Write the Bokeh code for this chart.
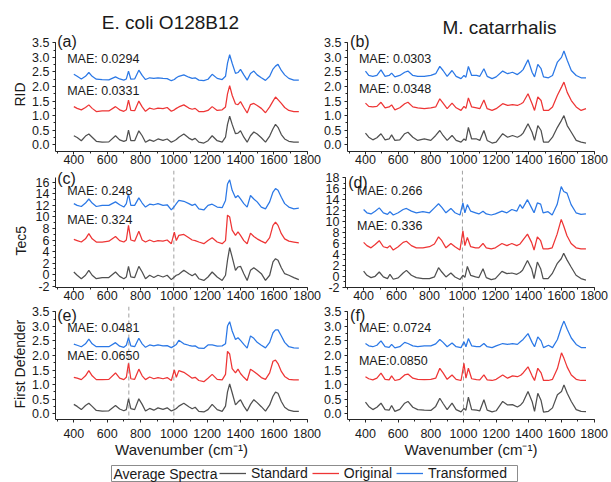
from bokeh.plotting import figure
from bokeh.layouts import column, row
from bokeh.models import (Range1d, FixedTicker, PrintfTickFormatter, Label, Span, Legend,
                          LegendItem, Title, BoxAnnotation)
from bokeh.embed import file_html
from bokeh.resources import INLINE

FONT = "Liberation Sans"
C_STD, C_ORI, C_TRA = "#505050", "#ee3535", "#2b78e6"

# ---------------- data: E. coli O128B12 (left column) ----------------
x_ecoli = [400, 420, 445, 470, 490, 510, 535, 570, 610, 650, 675, 700, 715, 728, 742,
           765, 790, 810, 830, 855, 880, 905, 935, 960, 985, 1003, 1015, 1030, 1060, 1090,
           1110, 1128, 1150, 1180, 1205, 1230, 1260, 1290, 1310, 1322, 1335, 1350, 1370, 1385, 1400,
           1420, 1440, 1460, 1480, 1500, 1525, 1550, 1575, 1595, 1610, 1625, 1645, 1665, 1690, 1720, 1750]

rid_ecoli_std = [0.31, 0.25, 0.14, 0.30, 0.37, 0.26, 0.12, 0.09, 0.10, 0.31, 0.17, 0.12, 0.15, 0.50, 0.14,
                 0.14, 0.48, 0.31, 0.09, 0.17, 0.12, 0.20, 0.15, 0.20, 0.09, 0.14, 0.18, 0.26, 0.37, 0.23,
                 0.17, 0.22, 0.09, 0.06, 0.14, 0.31, 0.14, 0.09, 0.26, 0.70, 0.98, 0.70, 0.38, 0.40, 0.48,
                 0.26, 0.09, 0.31, 0.44, 0.37, 0.24, 0.09, 0.30, 0.55, 0.70, 0.60, 0.35, 0.20, 0.12, 0.09, 0.09]
rid_ecoli_ori = [1.31, 1.25, 1.20, 1.28, 1.37, 1.25, 1.14, 1.16, 1.16, 1.31, 1.20, 1.15, 1.20, 1.53, 1.18,
                 1.17, 1.50, 1.30, 1.15, 1.26, 1.22, 1.26, 1.24, 1.28, 1.15, 1.20, 1.25, 1.30, 1.37, 1.26,
                 1.22, 1.25, 1.14, 1.14, 1.18, 1.31, 1.18, 1.20, 1.30, 1.75, 2.03, 1.70, 1.40, 1.38, 1.48,
                 1.28, 1.09, 1.38, 1.42, 1.35, 1.25, 1.10, 1.30, 1.50, 1.64, 1.55, 1.42, 1.28, 1.18, 1.14, 1.14]
rid_ecoli_tra = [2.42, 2.35, 2.26, 2.35, 2.48, 2.35, 2.25, 2.24, 2.23, 2.33, 2.26, 2.22, 2.26, 2.53, 2.25,
                 2.26, 2.56, 2.38, 2.24, 2.30, 2.28, 2.30, 2.28, 2.27, 2.20, 2.24, 2.30, 2.35, 2.40, 2.32,
                 2.28, 2.30, 2.22, 2.20, 2.25, 2.42, 2.28, 2.24, 2.35, 2.80, 3.09, 2.80, 2.45, 2.48, 2.59,
                 2.40, 2.22, 2.45, 2.53, 2.40, 2.30, 2.21, 2.35, 2.60, 2.70, 2.76, 2.55, 2.40, 2.28, 2.22, 2.22]

tec_ecoli_std = [0.46, -0.1, -0.7, -0.1, 0.75, -0.1, -0.7, -0.5, -0.5, 0.46, -0.3, -0.7, -0.4, 1.44, -0.4,
                 -0.5, 1.44, 0.46, -0.7, -0.1, -0.5, -0.1, -0.4, -0.1, -0.86, -0.4, -0.1, 0.06, 0.75, 0.17,
                 -0.2, 0.17, -0.7, -1.0, -0.4, 0.46, -0.4, -1.0, -0.1, 2.5, 4.67, 3.05, 0.75, 1.33, 1.44,
                 0.17, -1.0, 0.75, 1.2, 0.75, 0.17, -1.0, -0.1, 2.2, 2.77, 2.5, 1.2, 0.17, -0.1, -0.5, -0.86]
tec_ecoli_ori = [6.1, 5.9, 5.65, 6.2, 7.1, 6.2, 5.65, 5.65, 5.8, 6.6, 5.9, 5.65, 6.0, 8.53, 6.0,
                 5.8, 7.5, 6.0, 5.65, 6.0, 5.7, 5.9, 5.8, 6.0, 5.36, 7.38, 5.9, 6.8, 6.97, 6.4,
                 6.0, 5.9, 5.65, 5.36, 5.9, 6.4, 5.65, 5.36, 5.9, 10.3, 10.0, 7.7, 6.8, 7.4, 6.8,
                 5.9, 5.36, 7.2, 6.6, 6.2, 5.8, 5.45, 6.4, 8.53, 9.1, 8.53, 7.1, 6.2, 5.8, 5.65, 5.5]
tec_ecoli_tra = [12.3, 12.0, 11.8, 12.4, 13.1, 12.4, 11.8, 12.0, 12.0, 12.6, 12.1, 11.7, 12.3, 14.0, 12.0,
                 12.0, 13.3, 12.4, 11.7, 12.2, 12.1, 12.3, 12.0, 12.1, 11.2, 11.8, 12.3, 12.85, 12.7, 12.3,
                 12.0, 12.2, 11.4, 11.2, 12.0, 12.2, 11.7, 11.6, 12.85, 15.7, 16.4, 14.6, 13.3, 13.7, 13.1,
                 12.3, 11.7, 13.7, 13.1, 12.6, 11.7, 11.4, 12.6, 14.3, 14.9, 14.6, 13.4, 12.3, 11.7, 11.4, 11.5]

fd_ecoli_std = [0.32, 0.25, 0.14, 0.28, 0.36, 0.25, 0.11, 0.09, 0.10, 0.28, 0.16, 0.10, 0.14, 0.51, 0.17,
                0.14, 0.51, 0.32, 0.09, 0.18, 0.12, 0.20, 0.15, 0.20, 0.09, 0.14, 0.18, 0.26, 0.36, 0.24,
                0.17, 0.22, 0.08, 0.06, 0.14, 0.32, 0.14, 0.08, 0.26, 0.75, 1.02, 0.72, 0.30, 0.40, 0.48,
                0.26, 0.09, 0.32, 0.48, 0.38, 0.24, 0.09, 0.30, 0.60, 0.74, 0.70, 0.42, 0.22, 0.12, 0.08, 0.08]
fd_ecoli_ori = [1.25, 1.22, 1.17, 1.30, 1.48, 1.30, 1.17, 1.17, 1.18, 1.40, 1.22, 1.17, 1.25, 1.73, 1.20,
                1.18, 1.53, 1.30, 1.17, 1.26, 1.20, 1.24, 1.20, 1.24, 1.14, 1.50, 1.25, 1.48, 1.42, 1.30,
                1.22, 1.25, 1.14, 1.10, 1.22, 1.35, 1.18, 1.16, 1.35, 2.14, 2.05, 1.55, 1.40, 1.53, 1.38,
                1.25, 1.14, 1.53, 1.45, 1.36, 1.24, 1.18, 1.40, 1.80, 1.84, 1.72, 1.45, 1.28, 1.18, 1.16, 1.16]
fd_ecoli_tra = [2.39, 2.35, 2.30, 2.40, 2.56, 2.40, 2.30, 2.30, 2.30, 2.44, 2.32, 2.28, 2.35, 2.61, 2.33,
                2.30, 2.59, 2.40, 2.28, 2.36, 2.33, 2.36, 2.33, 2.34, 2.27, 2.33, 2.38, 2.52, 2.40, 2.35,
                2.32, 2.33, 2.25, 2.24, 2.36, 2.36, 2.32, 2.33, 2.40, 3.01, 3.16, 2.84, 2.55, 2.61, 2.52,
                2.38, 2.25, 2.67, 2.59, 2.45, 2.35, 2.26, 2.45, 2.78, 2.88, 2.88, 2.67, 2.45, 2.30, 2.26, 2.25]

# ---------------- data: M. catarrhalis (right column) ----------------
x_mcat = [400, 420, 445, 470, 495, 520, 545, 560, 580, 610, 640, 660, 690, 720, 760,
          800, 830, 855, 875, 900, 930, 955, 985, 1003, 1015, 1030, 1050, 1080, 1100, 1125,
          1145, 1175, 1200, 1240, 1270, 1300, 1330, 1350, 1365, 1395, 1420, 1435, 1455, 1475, 1490,
          1520, 1545, 1575, 1600, 1615, 1635, 1660, 1690, 1720, 1750]

rid_mcat_std = [0.40, 0.26, 0.17, 0.24, 0.38, 0.17, 0.20, 0.34, 0.15, 0.17, 0.38, 0.43, 0.26, 0.15, 0.20,
                0.15, 0.32, 0.49, 0.32, 0.15, 0.32, 0.15, 0.09, 0.20, 0.15, 0.60, 0.20, 0.20, 0.15, 0.49,
                0.15, 0.06, 0.09, 0.38, 0.26, 0.32, 0.26, 0.32, 0.40, 0.72, 0.43, 0.15, 0.66, 0.49, 0.09,
                0.09, 0.26, 0.60, 0.84, 1.00, 0.66, 0.43, 0.15, 0.09, 0.06]
rid_mcat_ori = [1.43, 1.32, 1.30, 1.32, 1.46, 1.27, 1.30, 1.37, 1.20, 1.27, 1.41, 1.46, 1.30, 1.27, 1.24,
                1.27, 1.30, 1.58, 1.43, 1.24, 1.43, 1.27, 1.18, 1.32, 1.25, 1.61, 1.30, 1.27, 1.24, 1.54,
                1.24, 1.18, 1.24, 1.41, 1.35, 1.38, 1.35, 1.40, 1.45, 1.75, 1.41, 1.18, 1.64, 1.52, 1.18,
                1.18, 1.30, 1.70, 1.98, 2.15, 1.80, 1.52, 1.30, 1.18, 1.24]
rid_mcat_tra = [2.53, 2.38, 2.35, 2.38, 2.57, 2.35, 2.38, 2.46, 2.33, 2.38, 2.49, 2.53, 2.38, 2.35, 2.35,
                2.38, 2.44, 2.69, 2.55, 2.35, 2.55, 2.35, 2.27, 2.38, 2.32, 2.69, 2.38, 2.38, 2.35, 2.61,
                2.35, 2.27, 2.33, 2.53, 2.44, 2.49, 2.41, 2.50, 2.58, 2.92, 2.49, 2.33, 2.76, 2.61, 2.33,
                2.30, 2.38, 2.84, 3.00, 3.22, 2.90, 2.55, 2.38, 2.30, 2.30]

tec_mcat_std = [0.96, 0.18, -0.24, 0.0, 0.78, -0.12, -0.42, 0.36, -0.54, -0.3, 0.6, 1.08, 0.18, -0.24, -0.42,
                -0.42, -0.12, 1.57, 0.78, -0.12, 0.6, -0.12, -0.6, 0.18, -0.2, 1.8, 0.18, -0.12, -0.24, 1.39,
                -0.24, -0.6, -0.42, 0.9, 0.48, 0.6, 0.36, 0.7, 1.1, 2.9, 1.39, -0.42, 2.6, 1.39, -0.42,
                -0.42, 0.48, 2.3, 3.2, 4.2, 3.0, 1.69, 0.18, -0.42, -0.7]
tec_mcat_ori = [6.2, 5.6, 5.2, 5.8, 6.5, 5.4, 5.2, 5.6, 4.8, 5.4, 6.2, 6.4, 5.6, 5.2, 5.2,
                5.4, 5.9, 7.2, 6.5, 5.2, 6.0, 5.4, 4.8, 8.3, 5.6, 7.1, 5.4, 5.2, 5.2, 6.0,
                5.2, 5.0, 5.2, 6.0, 5.6, 6.0, 5.6, 5.9, 6.5, 7.7, 6.2, 4.8, 7.2, 6.5, 5.0,
                5.0, 5.2, 7.7, 10.4, 9.2, 7.4, 6.0, 5.2, 5.0, 5.0]
tec_mcat_tra = [12.2, 11.6, 11.4, 11.9, 12.5, 11.6, 11.3, 11.8, 11.2, 11.6, 12.2, 12.4, 11.9, 11.6, 11.8,
                11.6, 12.5, 13.25, 12.6, 11.6, 12.4, 11.6, 11.2, 13.4, 11.6, 13.1, 11.9, 11.6, 11.4, 11.9,
                11.4, 11.2, 11.4, 11.9, 11.6, 12.2, 11.9, 13.1, 12.4, 14.0, 12.5, 11.6, 13.4, 13.2, 11.6,
                11.8, 11.2, 13.1, 16.4, 15.5, 15.2, 13.1, 11.6, 11.3, 11.4]

fd_mcat_std = [0.40, 0.25, 0.14, 0.22, 0.36, 0.14, 0.12, 0.28, 0.08, 0.15, 0.36, 0.42, 0.22, 0.14, 0.12,
               0.11, 0.25, 0.53, 0.35, 0.14, 0.36, 0.14, 0.06, 0.18, 0.12, 0.57, 0.14, 0.12, 0.10, 0.48,
               0.12, 0.06, 0.10, 0.42, 0.30, 0.31, 0.23, 0.30, 0.40, 0.76, 0.42, 0.08, 0.70, 0.45, 0.05,
               0.08, 0.20, 0.65, 0.76, 0.99, 0.70, 0.42, 0.14, 0.08, 0.07]
fd_mcat_ori = [1.27, 1.20, 1.16, 1.22, 1.39, 1.18, 1.16, 1.30, 1.14, 1.18, 1.33, 1.36, 1.22, 1.18, 1.17,
               1.18, 1.22, 1.56, 1.40, 1.18, 1.33, 1.18, 1.14, 1.73, 1.22, 1.56, 1.20, 1.17, 1.16, 1.33,
               1.16, 1.14, 1.18, 1.33, 1.22, 1.30, 1.27, 1.32, 1.40, 1.61, 1.30, 1.14, 1.56, 1.40, 1.14,
               1.14, 1.18, 1.55, 2.09, 1.90, 1.60, 1.33, 1.18, 1.14, 1.14]
fd_mcat_tra = [2.41, 2.33, 2.30, 2.35, 2.50, 2.30, 2.28, 2.38, 2.26, 2.30, 2.45, 2.41, 2.33, 2.30, 2.33,
               2.33, 2.40, 2.55, 2.45, 2.30, 2.43, 2.30, 2.27, 2.47, 2.30, 2.58, 2.33, 2.30, 2.30, 2.41,
               2.30, 2.27, 2.33, 2.41, 2.38, 2.41, 2.38, 2.48, 2.55, 2.75, 2.45, 2.30, 2.64, 2.50, 2.27,
               2.35, 2.27, 2.55, 2.98, 3.18, 2.90, 2.60, 2.38, 2.27, 2.27]

x_ticks = [400, 600, 800, 1000, 1200, 1400, 1600, 1800]
y_ticks_small = [0.0, 0.5, 1.0, 1.5, 2.0, 2.5, 3.0, 3.5]
y_ticks_tec_ecoli = [-2, 0, 2, 4, 6, 8, 10, 12, 14, 16]
y_ticks_tec_mcat = [-2, 0, 2, 4, 6, 8, 10, 12, 14, 16, 18]
mae_texts = [["MAE: 0.0294", "MAE: 0.0331"], ["MAE: 0.0303", "MAE: 0.0348"],
             ["MAE: 0.248", "MAE: 0.324"], ["MAE: 0.266", "MAE: 0.336"],
             ["MAE: 0.0481", "MAE: 0.0650"], ["MAE: 0.0724", "MAE:0.0850"]]
panel_tags = ["(a)", "(b)", "(c)", "(d)", "(e)", "(f)"]
row_names = ["RID", "Tec5", "First Defender"]
col_titles = ["E. coli O128B12", "M. catarrhalis"]
legend_title = "Average Spectra"
series_names = ["Standard", "Original", "Transformed"]
NAN = float("nan")


def make_panel(width, height, yr, ybounds, yticks, fmt, bl, br, bb, x_standoff, xlabel=None):
    p = figure(width=width, height=height, x_range=Range1d(290, 1802), y_range=Range1d(*yr),
               output_backend="svg", toolbar_location=None,
               min_border_left=bl, min_border_right=br, min_border_top=0, min_border_bottom=bb)
    p.outline_line_color = None
    p.grid.visible = False
    p.background_fill_color = "white"
    p.border_fill_color = "white"
    minor_x = [v for v in range(300, 1801, 100)]
    p.xaxis.ticker = FixedTicker(ticks=x_ticks, minor_ticks=minor_x)
    step = yticks[1] - yticks[0]
    minor_y = [yticks[0] + step * k / 2.0 for k in range(0, 2 * (len(yticks) - 1) + 1)]
    p.yaxis.ticker = FixedTicker(ticks=yticks, minor_ticks=minor_y)
    p.yaxis.formatter = PrintfTickFormatter(format=fmt)
    p.yaxis.bounds = ybounds
    for ax in (p.xaxis[0], p.yaxis[0]):
        ax.axis_line_color = "#262626"
        ax.major_tick_line_color = "#262626"
        ax.minor_tick_line_color = "#262626"
        ax.major_tick_in = 0
        ax.major_tick_out = 3
        ax.minor_tick_in = 0
        ax.minor_tick_out = 2
        ax.major_label_text_font = FONT
        ax.major_label_text_font_size = "12.5px"
        ax.major_label_text_color = "#1a1a1a"
        ax.axis_label_text_font = FONT
        ax.axis_label_text_font_style = "normal"
        ax.axis_label_text_color = "#1a1a1a"
    p.xaxis.major_label_standoff = x_standoff
    p.yaxis.major_label_standoff = 3
    if xlabel:
        p.xaxis.axis_label = xlabel
        p.xaxis.axis_label_text_font_size = "15px"
        p.xaxis.axis_label_standoff = 0
    return p


def add_row_name(p, text, offset, standoff):
    p.add_layout(Title(text=text, align="left", offset=offset, standoff=standoff,
                       text_font=FONT, text_font_size="14px", text_font_style="normal",
                       text_color="#1a1a1a"), "left")


def add_curves(p, xs, std, ori, tra):
    p.line(xs, std, line_color=C_STD, line_width=1.25)
    p.line(xs, ori, line_color=C_ORI, line_width=1.25)
    p.line(xs, tra, line_color=C_TRA, line_width=1.25)


def add_text(p, x, y, text, size, align="left"):
    p.add_layout(Label(x=x, y=y, text=text, text_font=FONT, text_font_size=size,
                       text_color="#1a1a1a", text_baseline="middle", text_align=align))


def add_dash(p, loc):
    p.add_layout(Span(location=loc, dimension="height", line_color="#a0a0a0",
                      line_dash="4 3", line_width=1, level="underlay"))


LW, RW = 321, 290
# Row 1 (frame 0-151)
pa = make_panel(LW, 170, (-0.23, 4.952), (-0.23, 3.51), y_ticks_small, "%.1f", 55, 14, 19, 0)
pb = make_panel(RW, 170, (-0.23, 4.952), (-0.23, 3.51), y_ticks_small, "%.1f", 24, 17, 19, 0)
# Row 2 (frame 170-287)
pc = make_panel(LW, 136, (-2.22, 18.03), (-2.22, 16.81), y_ticks_tec_ecoli, "%d", 55, 14, 19, 0)
pd = make_panel(RW, 136, (-2.05, 19.33), (-2.05, 18.05), y_ticks_tec_mcat, "%d", 24, 17, 19, 0)
# Row 3 (frame 306-419)
xlab = "Wavenumber (cm\u207b\u00b9)"
pe = make_panel(LW, 154, (-0.2, 3.682), (-0.2, 3.51), y_ticks_small, "%.1f", 55, 14, 41, 6, xlabel=xlab)
pf = make_panel(RW, 154, (-0.2, 3.682), (-0.2, 3.51), y_ticks_small, "%.1f", 24, 17, 41, 6, xlabel=xlab)

add_row_name(pa, row_names[0], 45, 3)
add_row_name(pc, row_names[1], 32, 8)
add_row_name(pe, row_names[2], 11, 3)

add_curves(pa, x_ecoli, rid_ecoli_std, rid_ecoli_ori, rid_ecoli_tra)
add_curves(pc, x_ecoli, tec_ecoli_std, tec_ecoli_ori, tec_ecoli_tra)
add_curves(pe, x_ecoli, fd_ecoli_std, fd_ecoli_ori, fd_ecoli_tra)
add_curves(pb, x_mcat, rid_mcat_std, rid_mcat_ori, rid_mcat_tra)
add_curves(pd, x_mcat, tec_mcat_std, tec_mcat_ori, tec_mcat_tra)
add_curves(pf, x_mcat, fd_mcat_std, fd_mcat_ori, fd_mcat_tra)

add_dash(pc, 1000)
add_dash(pd, 1000)
add_dash(pe, 730)
add_dash(pe, 1000)
add_dash(pf, 1000)

# column titles
add_text(pa, 980, 4.21, col_titles[0], "19px", align="center")
add_text(pb, 1220, 4.04, col_titles[1], "19px", align="center")

# panel tags and MAE annotations
tag_pos = [(300, 3.55), (306, 3.55), (300, 16.64), (306, 17.19), (300, 3.37), (306, 3.37)]
mae_pos = [(2.93, 1.86), (2.95, 1.92), (14.48, 9.46), (15.53, 9.1), (2.94, 1.97), (2.94, 1.80)]
for p, tag, tp, mt, mp in zip([pa, pb, pc, pd, pe, pf], panel_tags, tag_pos, mae_texts, mae_pos):
    add_text(p, tp[0], tp[1], tag, "16px")
    add_text(p, 360, mp[0], mt[0], "12.5px")
    add_text(p, 360, mp[1], mt[1], "12.5px")

# legend strip (frame = whole strip, 1 data unit = 1 px)
pl = figure(width=611, height=22, x_range=Range1d(0, 611), y_range=Range1d(0, 22),
            output_backend="svg", toolbar_location=None,
            x_axis_location=None, y_axis_location=None,
            min_border_left=0, min_border_right=0, min_border_top=0, min_border_bottom=0)
pl.outline_line_color = None
pl.grid.visible = False
pl.add_layout(BoxAnnotation(left=111, right=517, bottom=1, top=17, fill_alpha=0,
                            line_color="#8c8c8c", line_width=1, line_alpha=1))
pl.add_layout(Label(x=113, y=9, text=legend_title, text_font=FONT, text_font_size="14px",
                    text_color="#1a1a1a", text_baseline="middle", text_align="left"))
# legend-only renderers (a single NaN point: nothing is drawn in the strip itself)
r1 = pl.line([NAN], [NAN], line_color=C_STD, line_width=1.3)
r2 = pl.line([NAN], [NAN], line_color=C_ORI, line_width=1.3)
r3 = pl.line([NAN], [NAN], line_color=C_TRA, line_width=1.3)
leg = Legend(items=[LegendItem(label=series_names[0], renderers=[r1]),
                    LegendItem(label=series_names[1], renderers=[r2]),
                    LegendItem(label=series_names[2], renderers=[r3])],
             orientation="horizontal", location=(219, 1))
leg.label_text_font = FONT
leg.label_text_font_size = "14px"
leg.label_text_color = "#1a1a1a"
leg.glyph_width = 27
leg.glyph_height = 14
leg.label_height = 14
leg.label_standoff = 5
leg.spacing = 4
leg.padding = 0
leg.margin = 0
leg.border_line_color = None
leg.background_fill_alpha = 0
pl.add_layout(leg)

layout = column(row(pa, pb), row(pc, pd), row(pe, pf), pl)
open("out.html", "w").write(file_html(layout, INLINE))
